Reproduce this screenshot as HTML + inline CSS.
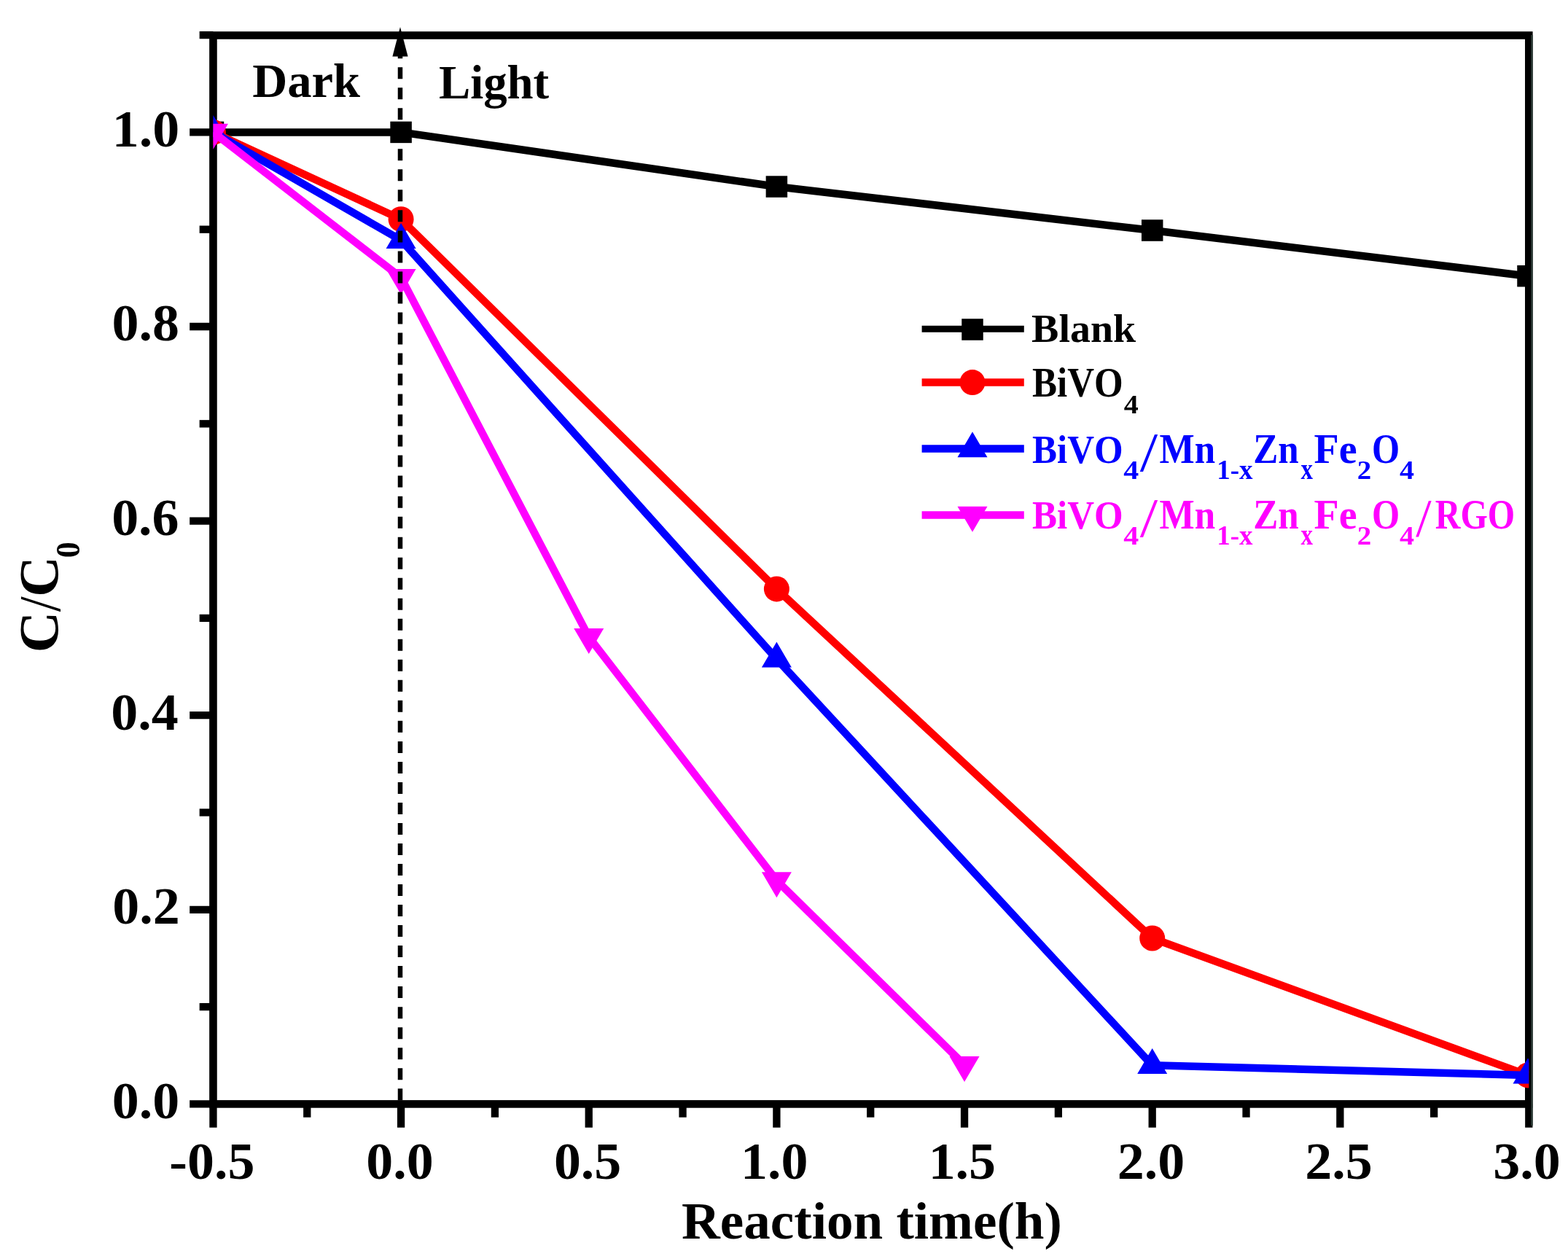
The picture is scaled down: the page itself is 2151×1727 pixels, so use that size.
<!DOCTYPE html>
<html><head><meta charset="utf-8"><title>C/C0 vs Reaction time</title>
<style>
html,body{margin:0;padding:0;background:#fff;}
svg{display:block;}
text{font-family:"Liberation Serif","Times New Roman",serif;font-weight:bold;font-kerning:none;}
</style></head><body>
<svg width="2151" height="1727" viewBox="0 0 2151 1727">
<rect width="2151" height="1727" fill="#fff"/>
<defs><clipPath id="pa"><rect x="292.45" y="48.5" width="1804.85" height="1465.9"/></clipPath></defs>

<rect x="292.45" y="48.5" width="1804.85" height="1465.9" fill="none" stroke="#000" stroke-width="10.6" stroke-linecap="square"/>
<g stroke="#000" stroke-width="10.3">
<line x1="260.15" y1="1514.4" x2="292.45" y2="1514.4"/>
<line x1="273.65" y1="1381.1" x2="292.45" y2="1381.1"/>
<line x1="260.15" y1="1247.8" x2="292.45" y2="1247.8"/>
<line x1="273.65" y1="1114.5" x2="292.45" y2="1114.5"/>
<line x1="260.15" y1="981.2" x2="292.45" y2="981.2"/>
<line x1="273.65" y1="847.9" x2="292.45" y2="847.9"/>
<line x1="260.15" y1="714.6" x2="292.45" y2="714.6"/>
<line x1="273.65" y1="581.3" x2="292.45" y2="581.3"/>
<line x1="260.15" y1="448" x2="292.45" y2="448"/>
<line x1="273.65" y1="314.7" x2="292.45" y2="314.7"/>
<line x1="260.15" y1="181.4" x2="292.45" y2="181.4"/>
<line x1="273.65" y1="48.1" x2="292.45" y2="48.1"/>
<line x1="292.45" y1="1514.4" x2="292.45" y2="1546.7"/>
<line x1="421.28" y1="1514.4" x2="421.28" y2="1532.7"/>
<line x1="550.1" y1="1514.4" x2="550.1" y2="1546.7"/>
<line x1="678.92" y1="1514.4" x2="678.92" y2="1532.7"/>
<line x1="807.75" y1="1514.4" x2="807.75" y2="1546.7"/>
<line x1="936.58" y1="1514.4" x2="936.58" y2="1532.7"/>
<line x1="1065.4" y1="1514.4" x2="1065.4" y2="1546.7"/>
<line x1="1194.22" y1="1514.4" x2="1194.22" y2="1532.7"/>
<line x1="1323.05" y1="1514.4" x2="1323.05" y2="1546.7"/>
<line x1="1451.88" y1="1514.4" x2="1451.88" y2="1532.7"/>
<line x1="1580.7" y1="1514.4" x2="1580.7" y2="1546.7"/>
<line x1="1709.53" y1="1514.4" x2="1709.53" y2="1532.7"/>
<line x1="1838.35" y1="1514.4" x2="1838.35" y2="1546.7"/>
<line x1="1967.17" y1="1514.4" x2="1967.17" y2="1532.7"/>
<line x1="2097.3" y1="1514.4" x2="2097.3" y2="1546.7"/>
</g>
<rect x="2100.2" y="48" width="2.6" height="1496" fill="#2e3c37"/>
<g clip-path="url(#pa)">
<polyline points="292.45,181.4 550.1,181.4 1065.4,256.05 1580.7,316.03 2096,378.68" fill="none" stroke="#000" stroke-width="10.5" stroke-linejoin="round"/>
<rect x="277.7" y="166.65" width="29.5" height="29.5" fill="#000"/>
<rect x="535.35" y="166.65" width="29.5" height="29.5" fill="#000"/>
<rect x="1050.65" y="241.3" width="29.5" height="29.5" fill="#000"/>
<rect x="1565.95" y="301.28" width="29.5" height="29.5" fill="#000"/>
<rect x="2081.25" y="363.93" width="29.5" height="29.5" fill="#000"/>
<polyline points="292.45,181.4 550.1,300.7 1065.4,807.91 1580.7,1286.99 2096,1474.94" fill="none" stroke="#ff0000" stroke-width="10.5" stroke-linejoin="round"/>
<circle cx="292.45" cy="181.4" r="17.5" fill="#ff0000"/>
<circle cx="550.1" cy="300.7" r="17.5" fill="#ff0000"/>
<circle cx="1065.4" cy="807.91" r="17.5" fill="#ff0000"/>
<circle cx="1580.7" cy="1286.99" r="17.5" fill="#ff0000"/>
<circle cx="2096" cy="1474.94" r="17.5" fill="#ff0000"/>
<polyline points="292.45,181.4 550.1,329.36 1065.4,903.89 1580.7,1461.35 2096,1474.94" fill="none" stroke="#0000ff" stroke-width="10.5" stroke-linejoin="round"/>
<polygon points="292.45,158.07 271.95,193.07 312.95,193.07" fill="#0000ff"/>
<polygon points="550.1,306.03 529.6,341.03 570.6,341.03" fill="#0000ff"/>
<polygon points="1065.4,880.55 1044.9,915.55 1085.9,915.55" fill="#0000ff"/>
<polygon points="1580.7,1438.01 1560.2,1473.01 1601.2,1473.01" fill="#0000ff"/>
<polygon points="2096,1451.61 2075.5,1486.61 2116.5,1486.61" fill="#0000ff"/>
<polyline points="292.45,181.4 550.1,380.68 807.75,873.63 1065.4,1207.81 1323.05,1460.68" fill="none" stroke="#ff00ff" stroke-width="10.5" stroke-linejoin="round"/>
<polygon points="292.45,204.73 271.95,169.73 312.95,169.73" fill="#ff00ff"/>
<polygon points="550.1,404.02 529.6,369.02 570.6,369.02" fill="#ff00ff"/>
<polygon points="807.75,896.96 787.25,861.96 828.25,861.96" fill="#ff00ff"/>
<polygon points="1065.4,1231.14 1044.9,1196.14 1085.9,1196.14" fill="#ff00ff"/>
<polygon points="1323.05,1484.01 1302.55,1449.01 1343.55,1449.01" fill="#ff00ff"/>
</g>
<line x1="549" y1="64.2" x2="549" y2="1514.4" stroke="#000" stroke-width="6.5" stroke-dasharray="16 12.02"/>
<polygon points="549,37 538.4,77.6 559.6,77.6" fill="#000"/>
<text transform="matrix(1.02,0,0,1,153.8,1533.7)" font-size="72.5">0.0</text>
<text transform="matrix(1.02,0,0,1,154.17,1267.1)" font-size="72.5">0.2</text>
<text transform="matrix(1.02,0,0,1,152.36,1000.5)" font-size="72.5">0.4</text>
<text transform="matrix(1.02,0,0,1,153.15,733.9)" font-size="72.5">0.6</text>
<text transform="matrix(1.02,0,0,1,153.44,467.3)" font-size="72.5">0.8</text>
<text transform="matrix(1.02,0,0,1,153.8,200.7)" font-size="72.5">1.0</text>
<text transform="matrix(1.02,0,0,1,232.3,1616.5)" font-size="72.5">-0.5</text>
<text transform="matrix(1.02,0,0,1,502.29,1616.5)" font-size="72.5">0.0</text>
<text transform="matrix(1.02,0,0,1,759.89,1616.5)" font-size="72.5">0.5</text>
<text transform="matrix(1.02,0,0,1,1016.03,1616.5)" font-size="72.5">1.0</text>
<text transform="matrix(1.02,0,0,1,1273.63,1616.5)" font-size="72.5">1.5</text>
<text transform="matrix(1.02,0,0,1,1532.75,1616.5)" font-size="72.5">2.0</text>
<text transform="matrix(1.02,0,0,1,1790.34,1616.5)" font-size="72.5">2.5</text>
<text transform="matrix(1.02,0,0,1,2048.21,1616.5)" font-size="72.5">3.0</text>
<text transform="matrix(1.01,0,0,1,935.05,1699)" font-size="72.4">Reaction time(h)</text>
<text transform="matrix(0,-0.78,0.77,0,79.25,895.22)" font-size="100">C</text>
<text transform="matrix(0,-0.76,0.81,0,81.71,839.3)" font-size="100" style="font-weight:normal">/</text>
<text transform="matrix(0,-0.77,0.77,0,79.25,818.84)" font-size="100">C</text>
<text transform="matrix(0,-0.44,0.47,0,109.14,765.18)" font-size="100">0</text>
<text transform="matrix(1,0,0,1,346.23,132.5)" font-size="66.5">Dark</text>
<text transform="matrix(0.99,0,0,1,601.9,134.8)" font-size="65.5">Light</text>
<line x1="1264.6" y1="451.3" x2="1404.8" y2="451.3" stroke="#000" stroke-width="9"/>
<rect x="1319.25" y="437.25" width="29.5" height="29.5" fill="#000"/>
<line x1="1264.6" y1="524.6" x2="1404.8" y2="524.6" stroke="#ff0000" stroke-width="10.5"/>
<circle cx="1334" cy="524.6" r="17.5" fill="#ff0000"/>
<line x1="1264.6" y1="615.6" x2="1404.8" y2="615.6" stroke="#0000ff" stroke-width="10.5"/>
<polygon points="1334,592.27 1313.5,627.27 1354.5,627.27" fill="#0000ff"/>
<line x1="1264.6" y1="706.5" x2="1404.8" y2="706.5" stroke="#ff00ff" stroke-width="10.5"/>
<polygon points="1334,729.83 1313.5,694.83 1354.5,694.83" fill="#ff00ff"/>
<text transform="matrix(0.56,0,0,0.54,1415.07,469.27)" font-size="100" fill="#000">Blank</text>
<text transform="matrix(0.51,0,0,0.56,1416.05,544.45)" font-size="100" fill="#000">BiVO</text>
<text transform="matrix(0.4,0,0,0.36,1541.66,567.1)" font-size="100" fill="#000">4</text>
<text transform="matrix(0.51,0,0,0.54,1416.05,634.78)" font-size="100" fill="#0000ff">BiVO</text>
<text transform="matrix(0.42,0,0,0.36,1541.23,657.2)" font-size="100" fill="#0000ff">4</text>
<text transform="matrix(0.88,0,0,0.77,1563.8,645.75)" font-size="100" style="font-weight:normal" fill="#0000ff">/</text>
<text transform="matrix(0.51,0,0,0.57,1590.52,635.2)" font-size="100" fill="#0000ff">Mn</text>
<text transform="matrix(0.37,0,0,0.37,1669.3,657.4)" font-size="100" fill="#0000ff">1-x</text>
<text transform="matrix(0.51,0,0,0.57,1719.35,635.1)" font-size="100" fill="#0000ff">Zn</text>
<text transform="matrix(0.33,0,0,0.39,1784.47,657.4)" font-size="100" fill="#0000ff">x</text>
<text transform="matrix(0.56,0,0,0.56,1802.45,634.98)" font-size="100" fill="#0000ff">Fe</text>
<text transform="matrix(0.39,0,0,0.36,1861.78,657.4)" font-size="100" fill="#0000ff">2</text>
<text transform="matrix(0.49,0,0,0.57,1881.9,635.24)" font-size="100" fill="#0000ff">O</text>
<text transform="matrix(0.4,0,0,0.36,1920.05,657.4)" font-size="100" fill="#0000ff">4</text>
<text transform="matrix(0.51,0,0,0.54,1416.05,724.78)" font-size="100" fill="#ff00ff">BiVO</text>
<text transform="matrix(0.42,0,0,0.36,1541.23,747.2)" font-size="100" fill="#ff00ff">4</text>
<text transform="matrix(0.88,0,0,0.77,1563.8,735.75)" font-size="100" style="font-weight:normal" fill="#ff00ff">/</text>
<text transform="matrix(0.51,0,0,0.57,1590.52,725.2)" font-size="100" fill="#ff00ff">Mn</text>
<text transform="matrix(0.37,0,0,0.37,1669.3,747.4)" font-size="100" fill="#ff00ff">1-x</text>
<text transform="matrix(0.51,0,0,0.57,1719.35,725.1)" font-size="100" fill="#ff00ff">Zn</text>
<text transform="matrix(0.33,0,0,0.39,1784.47,747.4)" font-size="100" fill="#ff00ff">x</text>
<text transform="matrix(0.56,0,0,0.56,1802.45,724.98)" font-size="100" fill="#ff00ff">Fe</text>
<text transform="matrix(0.39,0,0,0.36,1861.78,747.4)" font-size="100" fill="#ff00ff">2</text>
<text transform="matrix(0.49,0,0,0.57,1881.9,725.24)" font-size="100" fill="#ff00ff">O</text>
<text transform="matrix(0.4,0,0,0.36,1920.05,747.4)" font-size="100" fill="#ff00ff">4</text>
<text transform="matrix(0.77,0,0,0.75,1942.3,735.67)" font-size="100" style="font-weight:normal" fill="#ff00ff">/</text>
<text transform="matrix(0.48,0,0,0.57,1968.78,725.24)" font-size="100" fill="#ff00ff">RGO</text>
</svg>
</body></html>
